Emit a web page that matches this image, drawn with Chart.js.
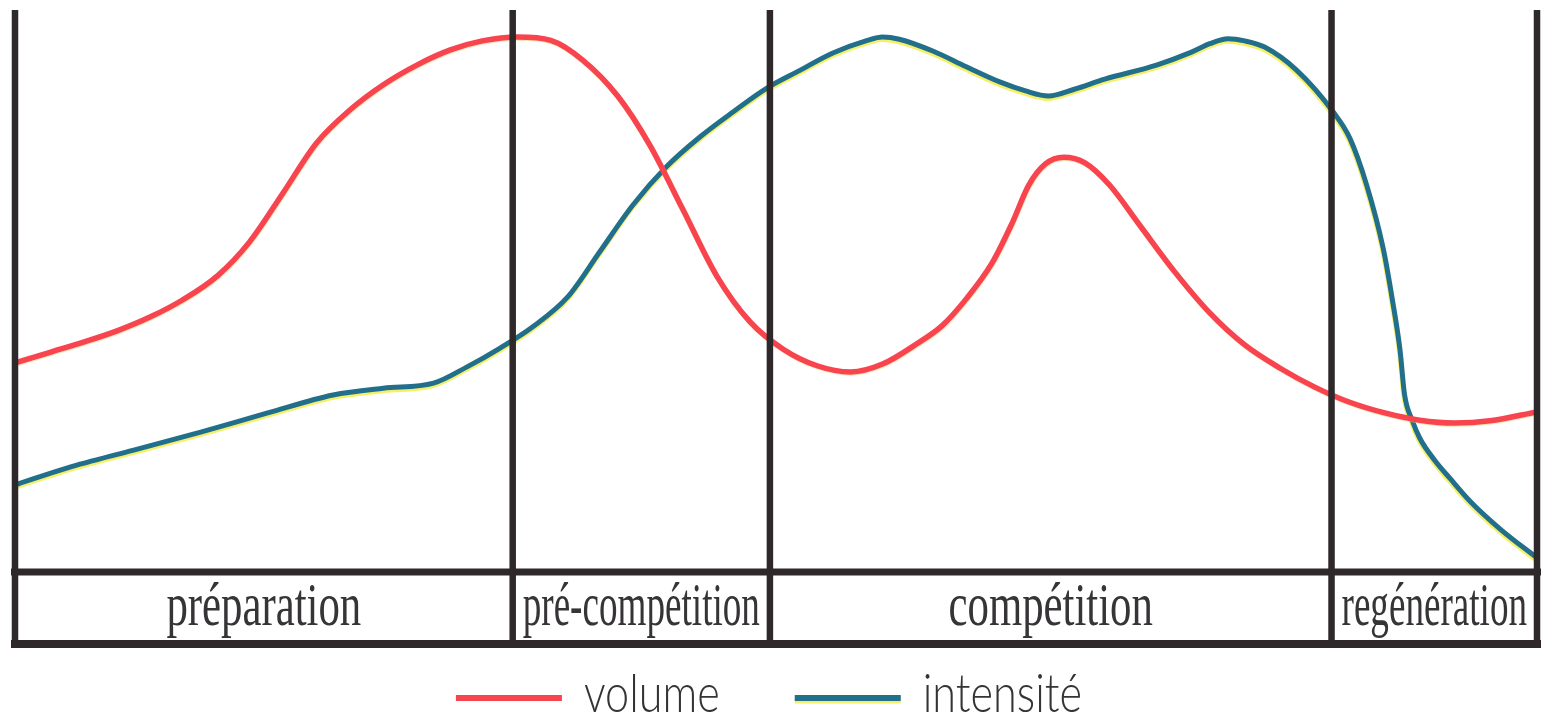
<!DOCTYPE html>
<html>
<head>
<meta charset="utf-8">
<script src="https://cdn.jsdelivr.net/npm/chart.js@4/dist/chart.umd.min.js"></script>
<style>html,body{margin:0;padding:0;background:#fff;overflow:hidden}canvas{display:block}</style>
</head>
<body>
<canvas id="c" width="1545" height="717"></canvas>
<script>
// Phase boundaries (x, % of the season) and phase names
const phaseBounds = [0, 32.7, 49.6, 86.5, 100];
const phaseLabels = ['préparation', 'pré-compétition', 'compétition', 'regénération'];

// Series names
const seriesNames = ['volume', 'intensité'];

// Volume curve (x: % of season, y: relative level 0-100)
const volumeX = [0, 2.3, 4.5, 6.7, 8.9, 11.0, 13.3, 15.4, 17.6, 19.8, 22.0, 24.2, 26.4, 28.6, 30.7, 33.0, 35.2, 37.3, 39.6, 41.7, 43.9, 46.1, 48.3, 50.5, 52.7, 54.9, 57.0, 59.3, 60.9, 62.5, 64.2, 65.5, 66.6, 67.7, 68.9, 70.3, 71.9, 73.9, 76.2, 78.5, 80.8, 83.1, 85.4, 87.7, 90.0, 92.3, 94.6, 96.9, 100];
const volumeY = [37.2, 39.1, 40.9, 42.9, 45.4, 48.4, 52.7, 58.7, 67.4, 76.3, 82.2, 86.7, 90.2, 92.9, 94.5, 95.2, 94.6, 91.1, 84.7, 76.0, 64.4, 52.7, 44.5, 39.6, 36.7, 35.6, 37.0, 40.7, 43.8, 48.6, 55.0, 62.0, 68.8, 72.6, 73.8, 72.8, 68.9, 61.7, 53.4, 46.1, 40.4, 36.3, 32.9, 30.2, 28.3, 27.0, 26.5, 26.9, 28.5];

// Intensity curve
const intensityX = [0, 3.4, 7.8, 12.2, 16.6, 20.9, 24.2, 27.5, 29.7, 31.9, 34.0, 36.3, 38.4, 40.6, 42.8, 45.0, 47.2, 49.4, 51.6, 53.7, 56.0, 57.0, 58.1, 60.3, 62.5, 64.7, 66.4, 67.9, 69.6, 71.6, 75.0, 77.3, 78.5, 79.7, 80.8, 82.1, 84.2, 86.6, 87.7, 88.8, 89.9, 90.5, 91.0, 91.3, 91.8, 92.3, 93.3, 94.3, 95.6, 97.6, 100];
const intensityY = [15.5, 18.5, 21.7, 24.9, 28.3, 31.5, 32.7, 33.6, 36.5, 39.9, 43.6, 48.9, 56.9, 65.3, 72.1, 77.4, 81.9, 86.1, 89.3, 92.3, 94.6, 95.2, 94.8, 92.7, 89.9, 87.2, 85.6, 84.7, 85.9, 87.7, 90.2, 92.5, 94.0, 94.9, 94.5, 93.4, 89.3, 81.9, 77.2, 68.9, 57.5, 48.4, 39.5, 31.5, 27.0, 23.8, 19.8, 16.6, 12.6, 7.6, 2.5];

const RED = '#f7444f';
const BLUE = '#226f8c';
const YELLOW = 'rgba(246,238,95,0.95)';
const INK = '#2e282a';

const toPts = (xs, ys) => xs.map((x, i) => ({x, y: ys[i]}));

const shadowPlugin = {
  id: 'printShadow',
  beforeDatasetDraw(chart, args) {
    const ctx = chart.ctx;
    ctx.save();
    if (args.index === 1) {
      ctx.shadowColor = YELLOW;
      ctx.shadowOffsetX = -0.5;
      ctx.shadowOffsetY = 2.5;
      ctx.shadowBlur = 0;
    } else {
      ctx.shadowColor = 'rgba(255,190,90,0.45)';
      ctx.shadowOffsetX = 0.5;
      ctx.shadowOffsetY = 1;
      ctx.shadowBlur = 0;
    }
  },
  afterDatasetDraw(chart) {
    chart.ctx.restore();
  }
};

const framePlugin = {
  id: 'frame',
  afterDatasetsDraw(chart) {
    const {ctx, chartArea, scales} = chart;
    const x = scales.x;
    const top = chartArea.top;
    const bandTop = chartArea.bottom;
    const bandBottom = bandTop + 72;
    const xl = x.getPixelForValue(phaseBounds[0]);
    const xr = x.getPixelForValue(phaseBounds[phaseBounds.length - 1]);
    ctx.save();
    ctx.strokeStyle = INK;
    ctx.lineCap = 'butt';
    ctx.lineWidth = 7;
    ctx.beginPath();
    ctx.moveTo(xl - 4, bandTop); ctx.lineTo(xr + 4, bandTop);
    ctx.stroke();
    ctx.lineWidth = 8;
    ctx.beginPath();
    ctx.moveTo(xl - 4, bandBottom); ctx.lineTo(xr + 4, bandBottom);
    ctx.stroke();
    ctx.lineWidth = 6.5;
    phaseBounds.forEach(b => {
      const px = x.getPixelForValue(b);
      ctx.beginPath();
      ctx.moveTo(px, top);
      ctx.lineTo(px, bandBottom + 4);
      ctx.stroke();
    });
    ctx.fillStyle = '#363436';
    ctx.font = '62px "Liberation Serif", "DejaVu Serif", serif';
    ctx.textAlign = 'center';
    ctx.textBaseline = 'alphabetic';
    for (let i = 0; i < phaseLabels.length; i++) {
      const p0 = x.getPixelForValue(phaseBounds[i]);
      const p1 = x.getPixelForValue(phaseBounds[i + 1]);
      const w = ctx.measureText(phaseLabels[i]).width;
      const s = Math.min(0.69, (p1 - p0 - 20) / w);
      ctx.save();
      ctx.translate((p0 + p1) / 2, bandTop + 53);
      ctx.scale(s, 1);
      ctx.fillText(phaseLabels[i], 0, 0);
      ctx.restore();
    }
    const colors = [RED, BLUE];
    const lineLen = 106, gapLT = 22, itemGap = 75, tScale = 0.8;
    ctx.font = '300 54px Lato, "Open Sans", sans-serif';
    ctx.textAlign = 'left';
    const widths = seriesNames.map(n => ctx.measureText(n).width * tScale);
    let total = itemGap * (seriesNames.length - 1);
    widths.forEach(w => total += lineLen + gapLT + w);
    let cx = 769 - total / 2;
    const ly = 698, ty = 712;
    seriesNames.forEach((n, i) => {
      ctx.save();
      if (i === 1) {
        ctx.shadowColor = YELLOW; ctx.shadowOffsetY = 2.5; ctx.shadowBlur = 0;
      }
      ctx.strokeStyle = colors[i];
      ctx.lineWidth = 6;
      ctx.beginPath();
      ctx.moveTo(cx, ly); ctx.lineTo(cx + lineLen, ly);
      ctx.stroke();
      ctx.restore();
      ctx.save();
      ctx.fillStyle = '#353335';
      ctx.translate(cx + lineLen + gapLT, ty);
      ctx.scale(tScale, 1);
      ctx.fillText(n, 0, 0);
      ctx.restore();
      cx += lineLen + gapLT + widths[i] + itemGap;
    });
    ctx.restore();
  }
};

new Chart(document.getElementById('c'), {
  type: 'line',
  data: {
    datasets: [
      {label: seriesNames[0], data: toPts(volumeX, volumeY), borderColor: RED, borderWidth: 5.5, cubicInterpolationMode: 'monotone', pointRadius: 0, fill: false},
      {label: seriesNames[1], data: toPts(intensityX, intensityY), borderColor: BLUE, borderWidth: 5, cubicInterpolationMode: 'monotone', pointRadius: 0, fill: false}
    ]
  },
  options: {
    responsive: false,
    animation: false,
    layout: {padding: {left: 15, right: 8, top: 10, bottom: 145}},
    scales: {
      x: {type: 'linear', min: 0, max: 100, display: false},
      y: {type: 'linear', min: 0, max: 100, display: false}
    },
    plugins: {legend: {display: false}, tooltip: {enabled: false}},
    events: []
  },
  plugins: [shadowPlugin, framePlugin]
});
</script>
</body>
</html>
